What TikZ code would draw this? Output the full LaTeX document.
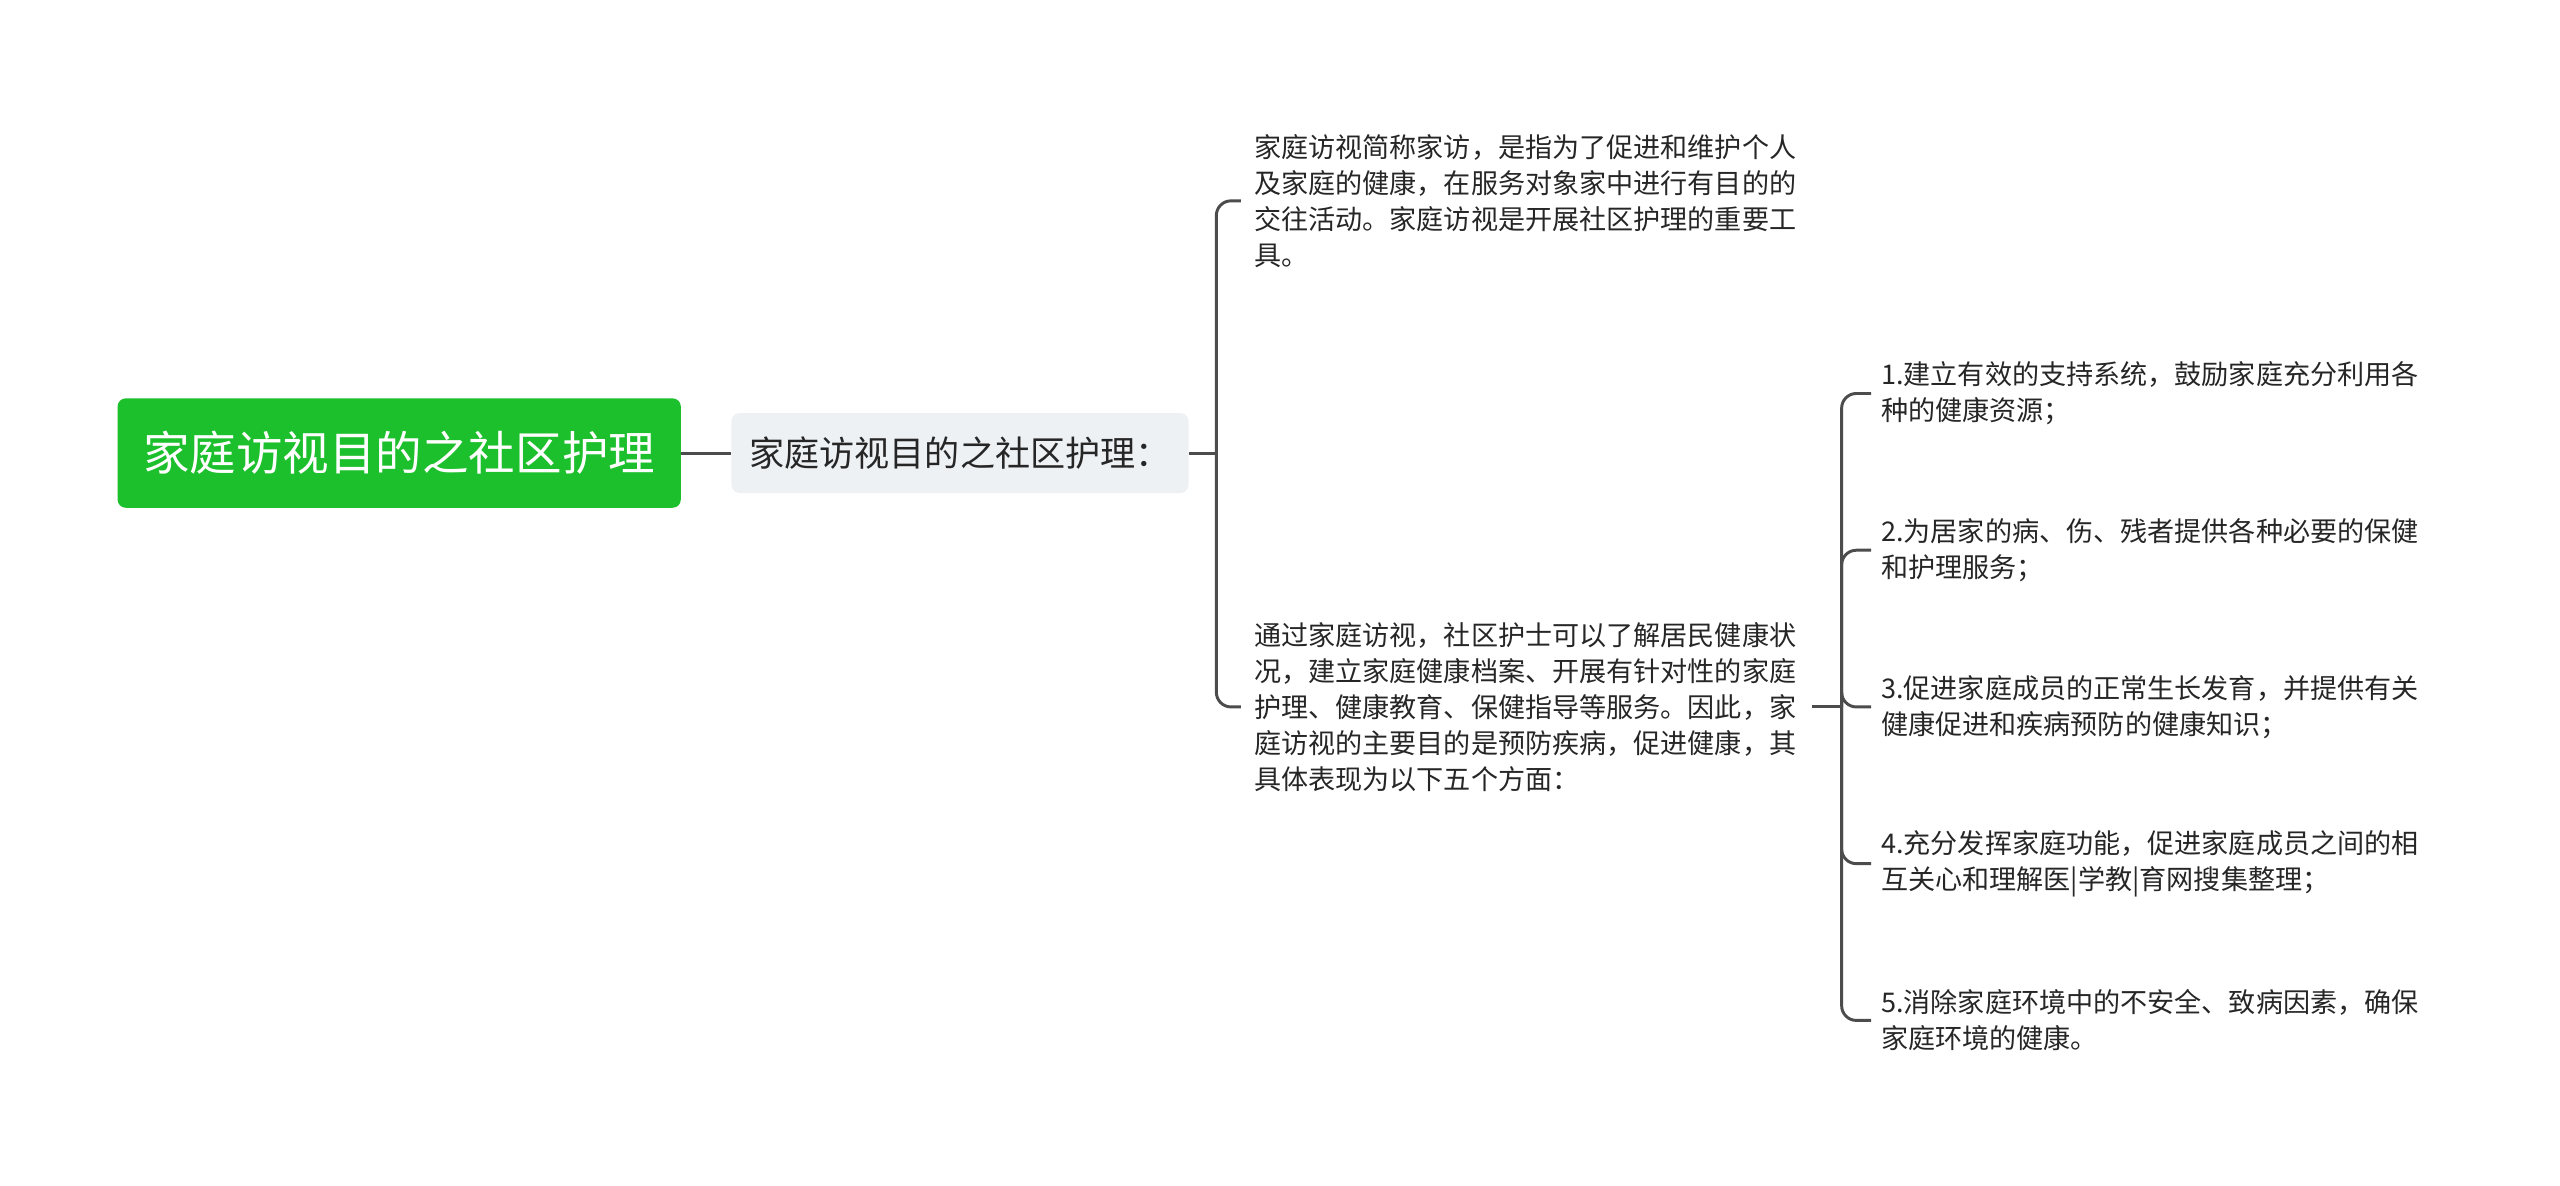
\documentclass[tikz,border=0pt]{standalone}
\usepackage{fontspec}
\setmainfont{Noto Sans CJK SC}
\definecolor{rootg}{HTML}{1CBF2C}
\definecolor{subg}{HTML}{EEF1F4}
\begin{document}
\begin{tikzpicture}[x=1pt,y=-1pt,
  leaf/.style={anchor=west,align=left,font=\fontsize{16.6}{22}\selectfont,text=black!85,inner sep=0pt},
  conn/.style={draw=black!70,line width=1.8pt,rounded corners=9pt}]
\useasboundingbox (0,0) rectangle (1568,726);
\node[fill=rootg,rounded corners=5pt,minimum width=345pt,minimum height=67pt,text=white,font=\fontsize{28.5}{32}\selectfont] (root) at (244.5,277.5) {家庭访视目的之社区护理};
\node[fill=subg,rounded corners=5pt,minimum width=280pt,minimum height=49pt,font=\fontsize{21.5}{24}\selectfont,text=black!85] (sub) at (588,277.5) {家庭访视目的之社区护理：};
\draw[conn] (root.east) -- (sub.west);
\node[leaf] (l1) at (768,123) {家庭访视简称家访，是指为了促进和维护个人\\及家庭的健康，在服务对象家中进行有目的的\\交往活动。家庭访视是开展社区护理的重要工\\具。};
\node[leaf] (l2) at (768,433) {通过家庭访视，社区护士可以了解居民健康状\\况，建立家庭健康档案、开展有针对性的家庭\\护理、健康教育、保健指导等服务。因此，家\\庭访视的主要目的是预防疾病，促进健康，其\\具体表现为以下五个方面：};
\coordinate (b1) at (745,277.5);
\draw[conn] (sub.east) -- (b1);
\draw[conn] (l1.west) ++(-8,0) coordinate (e1) -| (b1);
\draw[conn] (l2.west) ++(-8,0) coordinate (e2) -| (b1);
\foreach \n/\y/\t in {
 1/241/{1.建立有效的支持系统，鼓励家庭充分利用各\\种的健康资源；},
 2/337/{2.为居家的病、伤、残者提供各种必要的保健\\和护理服务；},
 3/433/{3.促进家庭成员的正常生长发育，并提供有关\\健康促进和疾病预防的健康知识；},
 4/529/{4.充分发挥家庭功能，促进家庭成员之间的相\\互关心和理解医|学教|育网搜集整理；},
 5/625/{5.消除家庭环境中的不安全、致病因素，确保\\家庭环境的健康。}}{
  \node[leaf] (i\n) at (1152,\y) {\t};
}
\coordinate (b2) at (1128,433);
\draw[conn] (1110,433) -- (b2);
\foreach \n in {1,...,5}{\draw[conn] (i\n.west) ++(-6,0) -| (b2);}
\end{tikzpicture}
\end{document}
